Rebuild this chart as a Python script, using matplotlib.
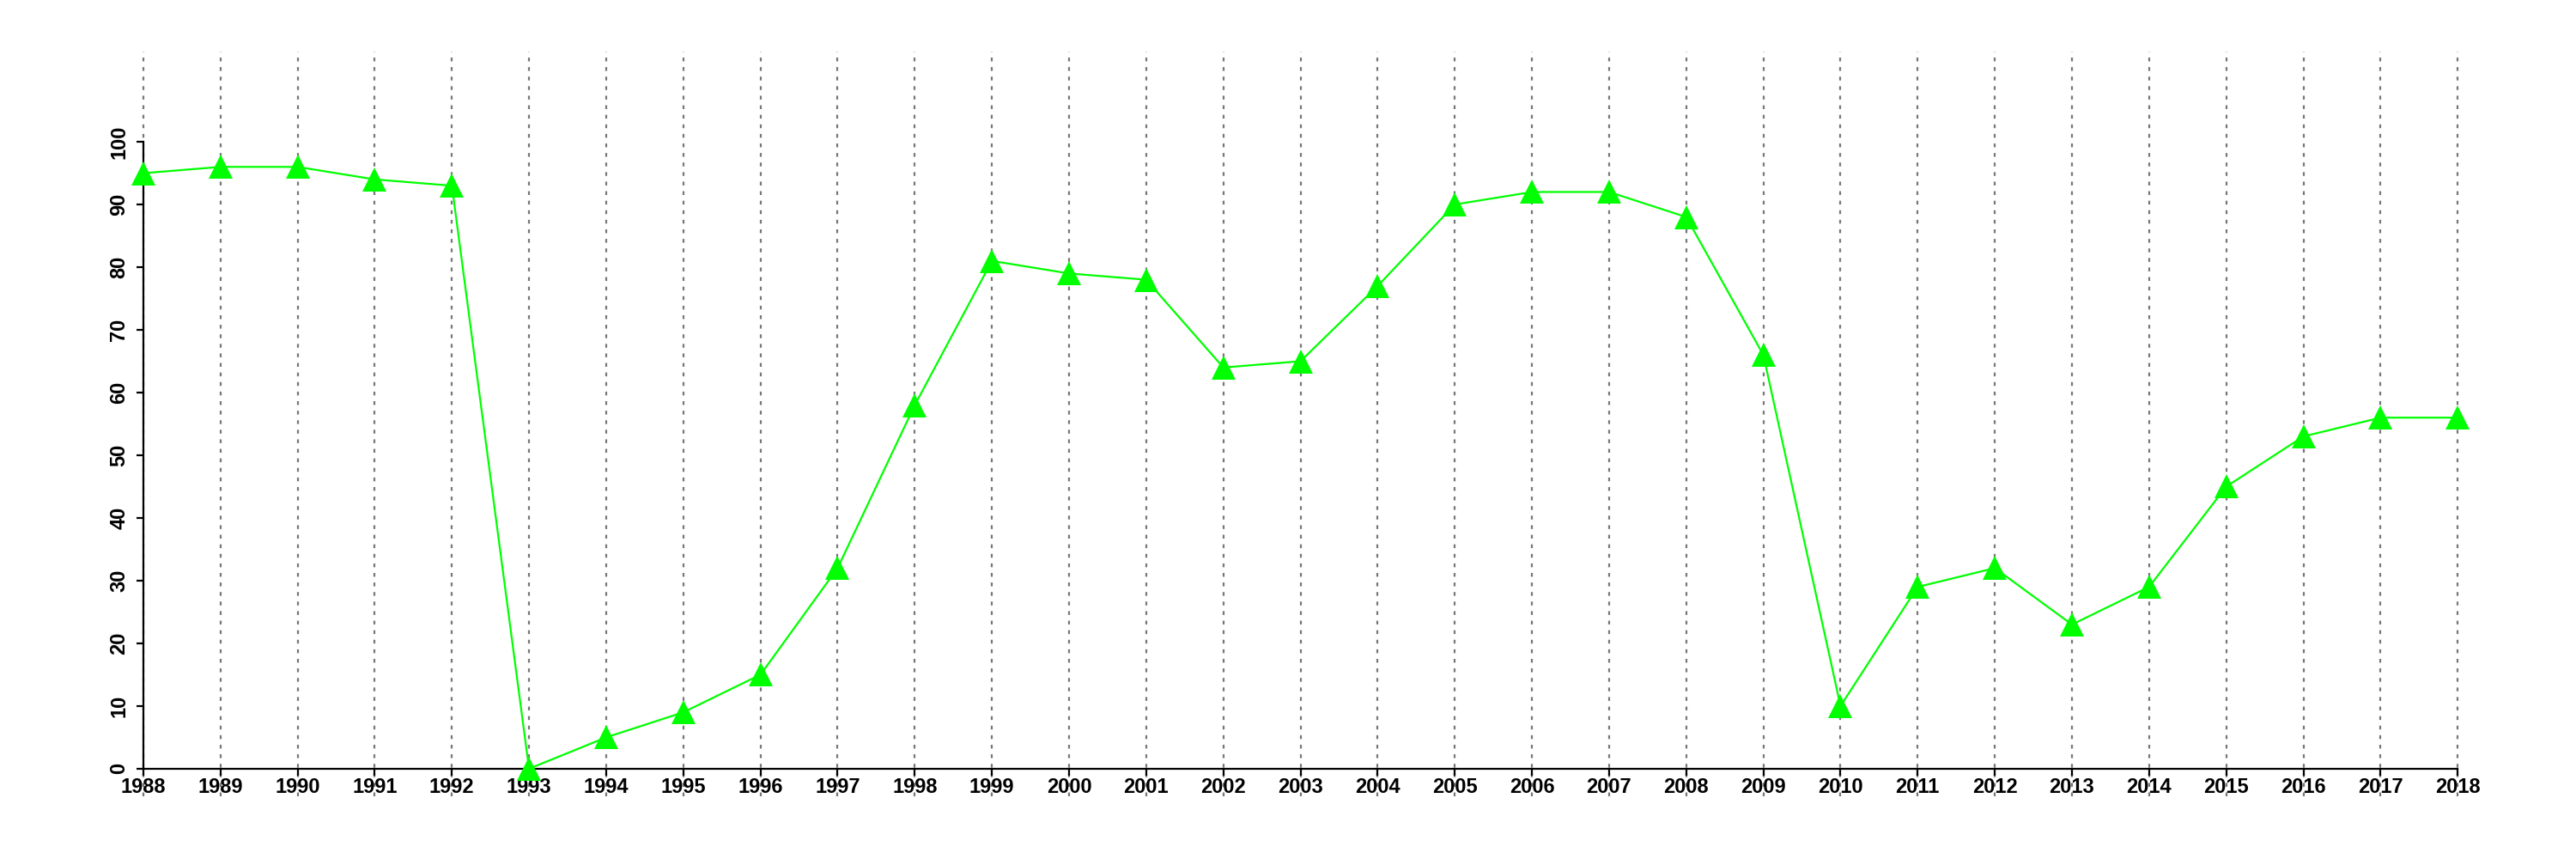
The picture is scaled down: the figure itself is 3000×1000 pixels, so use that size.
import matplotlib.pyplot as plt

years = list(range(1988, 2019))
values = [95, 96, 96, 94, 93, 0, 5, 9, 15, 32, 58, 81, 79, 78, 64, 65, 77,
          90, 92, 92, 88, 66, 10, 29, 32, 23, 29, 45, 53, 56, 56]
y_ticks = list(range(0, 101, 10))

plt.rcParams["font.family"] = ["Liberation Sans", "DejaVu Sans"]

fig = plt.figure(figsize=(30, 10), dpi=100)
ax = fig.add_axes([0.0197, 0.073, 0.9703, 0.867])

# R-style plot region: 4% padding around the data limits
ax.set_xlim(1988 - 1.2, 2018 + 1.2)
ax.set_ylim(-4.4, 114.4)

ax.plot(years, values, color="#00ff00", lw=1.6, marker="^",
        markersize=20, markeredgewidth=0, zorder=3)

ax.set_xticks(years)
ax.set_xticklabels([str(y) for y in years])
ax.set_yticks(y_ticks)
ax.set_yticklabels([str(v) for v in y_ticks])

ax.grid(axis="x", color="#777777", linestyle=(0, (2, 3)), linewidth=1.6)
ax.set_axisbelow(True)

for side in ("top", "right"):
    ax.spines[side].set_visible(False)
ax.spines["left"].set_bounds(0, 100)
ax.spines["left"].set_position(("data", 1988))
ax.spines["bottom"].set_bounds(1988, 2018)
ax.spines["bottom"].set_position(("data", 0))
for side in ("left", "bottom"):
    ax.spines[side].set_linewidth(1.6)

ax.tick_params(axis="both", length=6, width=1.6, labelsize=17)
ax.tick_params(axis="x", pad=1)
ax.tick_params(axis="y", pad=6)
for lab in ax.get_xticklabels() + ax.get_yticklabels():
    lab.set_fontweight("bold")
for lab in ax.get_yticklabels():
    lab.set_rotation(90)
    lab.set_va("center")

fig.savefig("out.png", dpi=100, facecolor="white")
plt.close(fig)
